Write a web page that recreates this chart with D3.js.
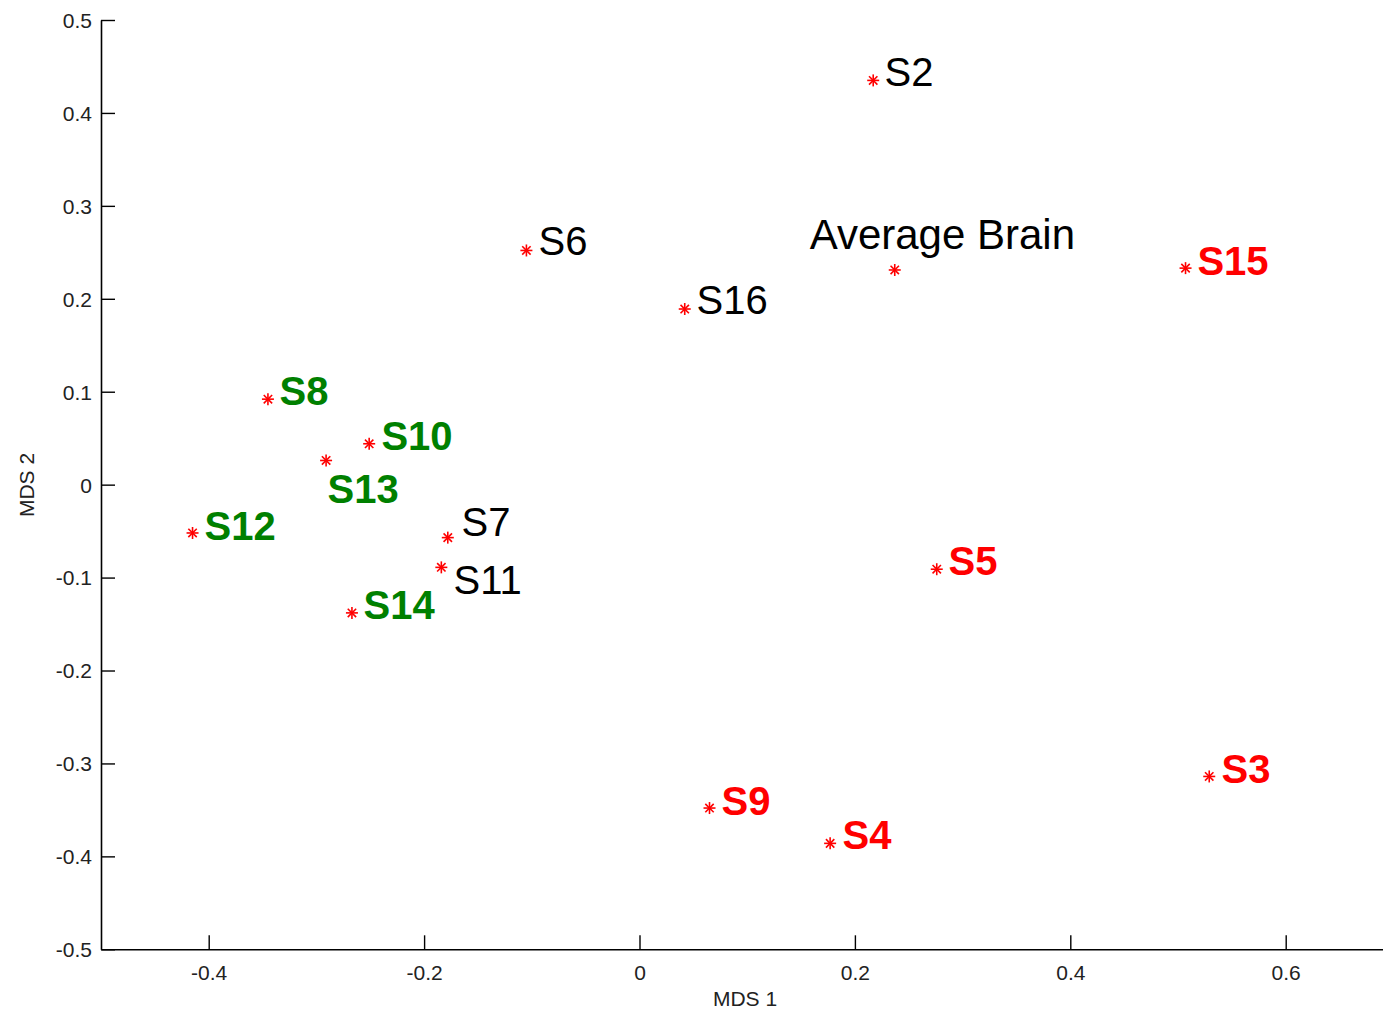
<!DOCTYPE html>
<html>
<head>
<meta charset="utf-8">
<script src="https://cdn.jsdelivr.net/npm/d3@7"></script>
<style>
html,body{margin:0;padding:0;background:#fff;}
svg{display:block;}
</style>
</head>
<body>
<svg id="chart" width="1383" height="1011"></svg>
<script>
// ---- data ----
const names  = ["S2","Average Brain","S6","S16","S15","S8","S10","S13","S12","S7","S11","S14","S5","S3","S9","S4"];
const mds1   = [0.217,0.237,-0.105,0.042,0.507,-0.345,-0.251,-0.291,-0.415,-0.178,-0.184,-0.267,0.276,0.529,0.065,0.177];
const mds2   = [0.435,0.231,0.252,0.189,0.233,0.092,0.044,0.026,-0.052,-0.057,-0.089,-0.138,-0.091,-0.314,-0.348,-0.386];
// text anchor positions (data units, left-aligned, vertically centred)
const labelX = [0.2275,0.158,-0.0938,0.0529,0.518,-0.3343,-0.2396,-0.2897,-0.4039,-0.1653,-0.1727,-0.2563,0.2869,0.5404,0.0761,0.1885];
const labelY = [0.444,0.2697,0.2622,0.1986,0.2406,0.1007,0.0523,-0.0047,-0.0437,-0.0394,-0.1027,-0.1296,-0.0813,-0.306,-0.3405,-0.3771];
const group  = ["n","n","n","n","r","g","g","g","g","n","n","g","r","r","r","r"];
const xTicks = [-0.4,-0.2,0,0.2,0.4,0.6];
const yTicks = [-0.5,-0.4,-0.3,-0.2,-0.1,0,0.1,0.2,0.3,0.4,0.5];
const xTickLabels = ["-0.4","-0.2","0","0.2","0.4","0.6"];
const yTickLabels = ["-0.5","-0.4","-0.3","-0.2","-0.1","0","0.1","0.2","0.3","0.4","0.5"];
const xTitle = "MDS 1";
const yTitle = "MDS 2";

// ---- drawing ----
const svg = d3.select("#chart");
const x = d3.scaleLinear().domain([-0.5,0.7]).range([101,1393.4]);
const y = d3.scaleLinear().domain([-0.5,0.5]).range([949.3,20]);
const font = "'Liberation Sans', Arial, sans-serif";
const colors = {n:"#000000", r:"#ff0000", g:"#008000"};

// axes
const xAxis = d3.axisBottom(x).tickValues(xTicks).tickSizeInner(-14).tickSizeOuter(0).tickPadding(12)
  .tickFormat((d,i) => xTickLabels[i]);
const yAxis = d3.axisLeft(y).tickValues(yTicks).tickSizeInner(-14).tickSizeOuter(0).tickPadding(9)
  .tickFormat((d,i) => yTickLabels[i]);

const gx = svg.append("g").attr("transform", `translate(0,${y(-0.5)})`).call(xAxis);
const gy = svg.append("g").attr("transform", `translate(${x(-0.5)},0)`).call(yAxis);
[gx, gy].forEach(g => {
  g.select(".domain").attr("stroke","#000").attr("stroke-width",1.6);
  g.selectAll(".tick line").attr("stroke","#000").attr("stroke-width",1.4);
  g.selectAll(".tick text").attr("font-family",font).attr("font-size",21).attr("fill","#222");
});
gx.selectAll(".tick text").attr("dy","0.9em");
gy.selectAll(".tick text").attr("dy","0.35em");

// axis titles
svg.append("text").attr("x",745).attr("y",1006).attr("text-anchor","middle")
  .attr("font-family",font).attr("font-size",21).attr("fill","#222").text(xTitle);
svg.append("text").attr("transform","translate(34,485) rotate(-90)").attr("text-anchor","middle")
  .attr("font-family",font).attr("font-size",21).attr("fill","#222").text(yTitle);

// markers (asterisks)
const idx = d3.range(names.length);
const r = 6;
const mk = svg.append("g").selectAll("g").data(idx).join("g")
  .attr("transform", i => `translate(${x(mds1[i])},${y(mds2[i])})`)
  .attr("stroke","#ff0000").attr("stroke-width",1.6);
mk.append("line").attr("x1",-r).attr("x2",r).attr("y1",0).attr("y2",0);
mk.append("line").attr("x1",0).attr("x2",0).attr("y1",-r).attr("y2",r);
mk.append("line").attr("x1",-r*0.7).attr("x2",r*0.7).attr("y1",-r*0.7).attr("y2",r*0.7);
mk.append("line").attr("x1",-r*0.7).attr("x2",r*0.7).attr("y1",r*0.7).attr("y2",-r*0.7);

// labels
svg.append("g").selectAll("text").data(idx).join("text")
  .attr("x", i => x(labelX[i]))
  .attr("y", i => y(labelY[i]))
  .attr("dy","0.36em")
  .attr("font-family",font)
  .attr("font-size", i => names[i].length > 4 ? 42 : 40)
  .attr("font-weight", i => group[i] === "n" ? "normal" : "bold")
  .attr("fill", i => colors[group[i]])
  .text(i => names[i]);
</script>
</body>
</html>
